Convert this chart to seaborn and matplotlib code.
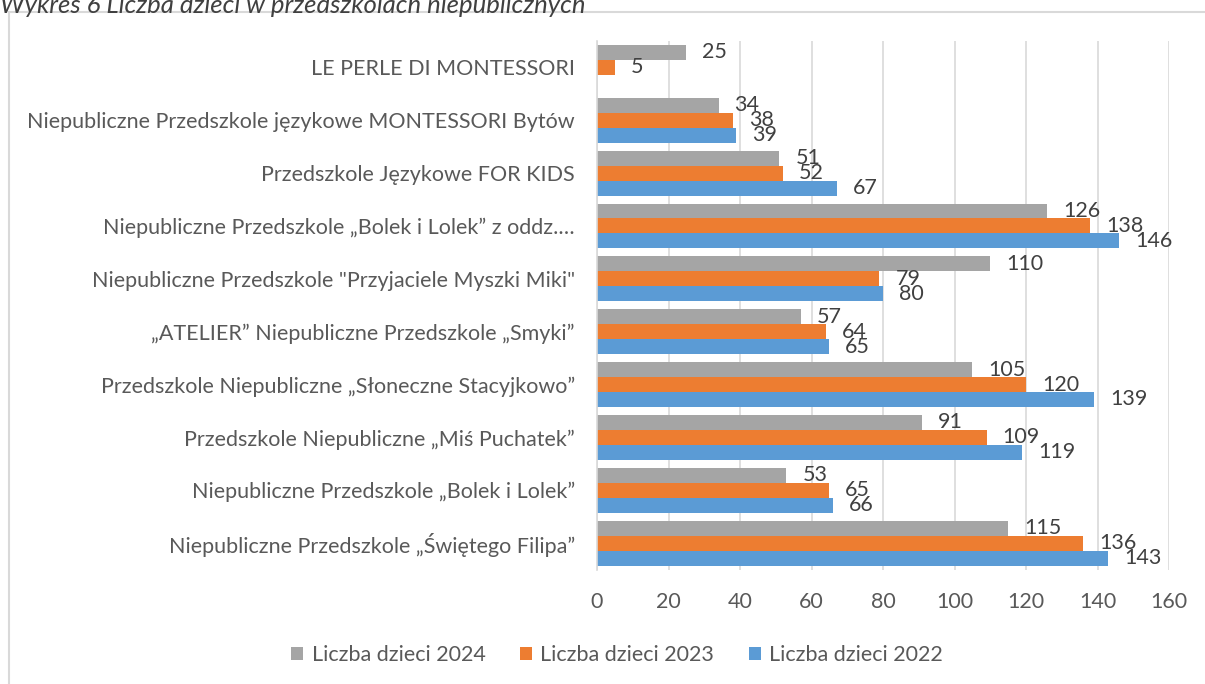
import matplotlib
matplotlib.use("Agg")
import matplotlib.pyplot as plt
from matplotlib.patches import Rectangle, Patch
import seaborn as sns
import pandas as pd
import numpy as np

categories = [
    "LE PERLE DI MONTESSORI",
    "Niepubliczne Przedszkole językowe MONTESSORI Bytów",
    "Przedszkole Językowe FOR KIDS",
    "Niepubliczne Przedszkole „Bolek i Lolek” z oddz.…",
    "Niepubliczne Przedszkole \"Przyjaciele Myszki Miki\"",
    "„ATELIER” Niepubliczne Przedszkole „Smyki”",
    "Przedszkole Niepubliczne „Słoneczne Stacyjkowo”",
    "Przedszkole Niepubliczne „Miś Puchatek”",
    "Niepubliczne Przedszkole „Bolek i Lolek”",
    "Niepubliczne Przedszkole „Świętego Filipa”",
]
series_names = ["Liczba dzieci 2024", "Liczba dzieci 2023", "Liczba dzieci 2022"]
values_2024 = [25, 34, 51, 126, 110, 57, 105, 91, 53, 115]
values_2023 = [5, 38, 52, 138, 79, 64, 120, 109, 65, 136]
values_2022 = [None, 39, 67, 146, 80, 65, 139, 119, 66, 143]
colors = ["#A5A5A5", "#ED7D31", "#5B9BD5"]
x_ticks = [0, 20, 40, 60, 80, 100, 120, 140, 160]
title = "Wykres 6 Liczba dzieci w przedszkolach niepublicznych"

rows = []
for name, vals in zip(series_names, [values_2024, values_2023, values_2022]):
    for c, v in zip(categories, vals):
        if v is not None:
            rows.append({"cat": c, "series": name, "value": v})
df = pd.DataFrame(rows)

sns.set_theme(style="white")
plt.rcParams["font.family"] = ["Lato", "DejaVu Sans"]

W, H = 1205, 684
fig = plt.figure(figsize=(W / 100, H / 100), dpi=100)
ax = fig.add_axes([597 / W, 1 - 569.5 / H, (1169 - 597) / W, (569.5 - 41) / H])

sns.barplot(data=df, x="value", y="cat", hue="series", order=categories,
            hue_order=series_names, palette=colors, orient="h", width=0.85,
            ax=ax, legend=False, saturation=1, edgecolor="none")

fs = 15.5
for cont, name in zip(ax.containers, series_names):
    labs = [f"{int(r.get_width())}" for r in cont]
    ax.bar_label(cont, labels=labs, padding=11.5, fontsize=fs, color="#404040")

ax.set_xlim(0, 160)
ax.set_xticks(x_ticks)
ax.set_xticklabels([str(t) for t in x_ticks])
ax.xaxis.grid(True, color="#D9D9D9", linewidth=1.2)
ax.yaxis.grid(False)
ax.set_axisbelow(True)
for s in ["top", "right", "bottom"]:
    ax.spines[s].set_visible(False)
ax.spines["left"].set_color("#D9D9D9")
ax.spines["left"].set_linewidth(1.2)
ax.tick_params(axis="x", length=0, pad=16, labelsize=fs, labelcolor="#595959")
ax.tick_params(axis="y", length=0, pad=16, labelsize=fs, labelcolor="#595959")
ax.set_xlabel("")
ax.set_ylabel("")

handles = [Patch(facecolor=c, edgecolor="none") for c in colors]
fig.legend(handles, series_names, loc="center", bbox_to_anchor=(617 / W, 1 - 655 / H),
           ncol=3, frameon=False, fontsize=fs, labelcolor="#595959",
           handlelength=0.55, handleheight=0.55, handletextpad=0.4, columnspacing=1.6)

fig.add_artist(Rectangle((8.5 / W, -0.1), 1.2, 1.1 - 12 / H + 0.0, transform=fig.transFigure,
                         fill=False, edgecolor="#D9D9D9", linewidth=1.5))
fig.text(0.0, 1 - 13 / H, title, ha="left", va="baseline", style="italic",
         fontsize=18.5, color="#404040")

fig.savefig("out.png", dpi=100)
